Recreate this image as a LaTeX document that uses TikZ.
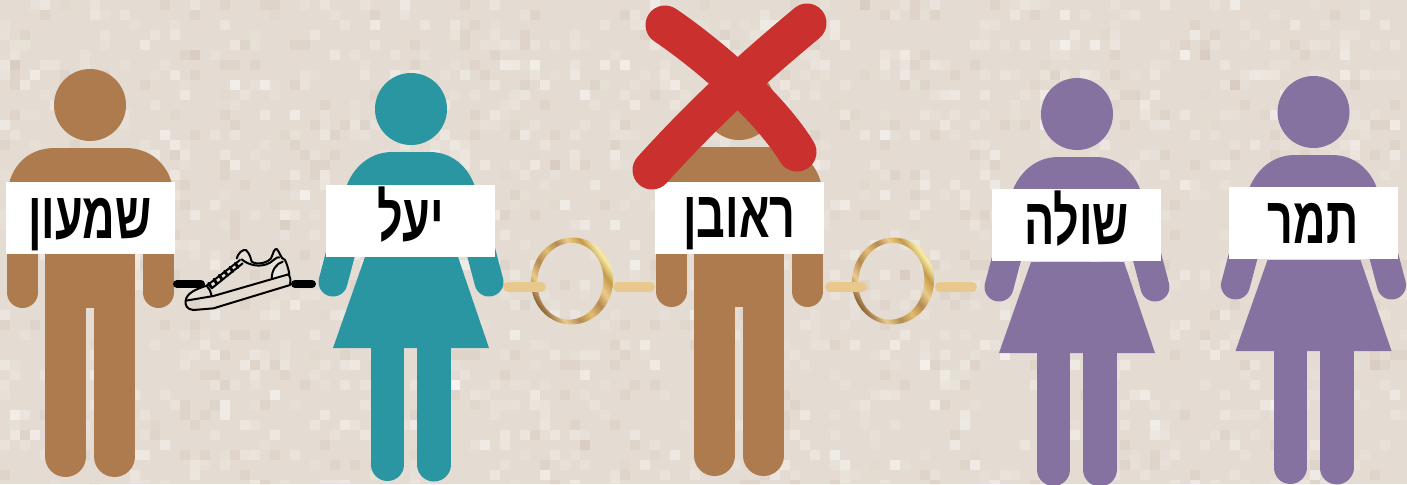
\documentclass[tikz,border=0pt]{standalone}
\usepackage{fontspec}
\usetikzlibrary{calc}
\TeXXeTstate=1
\newfontfamily\hebfont[Script=Hebrew,FakeStretch=0.68]{Liberation Sans Bold}
\definecolor{reka}{HTML}{E4DCD2}
\definecolor{hum}{HTML}{AE7B4E}
\definecolor{turkiz}{HTML}{2A96A2}
\definecolor{sagol}{HTML}{8672A1}
\definecolor{adom}{HTML}{C9302E}
\definecolor{zahavkav}{HTML}{E8C88C}
\definecolor{zA}{HTML}{8E6638}
\definecolor{zB}{HTML}{EBCB8A}
\definecolor{zC}{HTML}{B48A50}
\definecolor{zD}{HTML}{E2BC72}
\definecolor{zE}{HTML}{C49A48}
\definecolor{zF}{HTML}{F6ECA8}
\pgfdeclarehorizontalshading{zahav}{100bp}{
  color(0bp)=(zA); color(27bp)=(zA); color(34bp)=(zB); color(41bp)=(zC);
  color(48bp)=(zD); color(55bp)=(zC); color(61bp)=(zB); color(67bp)=(zE);
  color(72bp)=(zF); color(77bp)=(zD); color(100bp)=(zD)}
\tikzset{
  tavit/.style={fill=white,inner sep=0pt,minimum width=84.5pt,text width=84.5pt,align=center,
                text height=28pt,text depth=8pt,font=\hebfont\fontsize{33}{33}\selectfont},
  shroch/.style={line width=4pt,line cap=round},
  kav/.style={line width=5pt,line cap=round,zahavkav},
  evar/.style={line width=#1,line cap=round},
  gever/.pic={
    \fill[hum] (0,0) circle[radius=36];
    \fill[hum] (-83,110) -- (-83,95) .. controls (-83,65) and (-65,43) .. (-35,43) -- (35,43)
      .. controls (65,43) and (84,65) .. (84,95) -- (84,110) -- cycle;
    \fill[hum] (-45,110) rectangle (45,203);
    \draw[hum,evar=15.5pt] (-67.5,110) -- (-67.5,187.5);
    \draw[hum,evar=15.5pt] (68.5,110) -- (68.5,187.5);
    \draw[hum,evar=20.5pt] (-24.5,190) -- (-24.5,351.5);
    \draw[hum,evar=20.5pt] (24.5,190) -- (24.5,351.5);
  },
  isha/.pic={
    \fill[#1] (0,0) circle[radius=36];
    \fill[#1] (-66,81) .. controls (-58,56) and (-39,43) .. (-19,43) -- (19,43)
      .. controls (39,43) and (58,56) .. (65,81) -- cycle;
    \fill[#1] (-46,148) -- (47,148) -- (78,239) -- (-78,239) -- cycle;
    \draw[#1,evar=14.5pt] (-64,120) -- (-78,173);
    \draw[#1,evar=14.5pt] (64,120) -- (78,173);
    \draw[#1,evar=16.5pt] (-23.5,235) -- (-23.5,355.5);
    \draw[#1,evar=17pt] (23,235) -- (23,355.5);
  },
  tabaat/.pic={
    \shade[shading=zahav,shading angle=35,even odd rule,rotate=-8]
      (0,0) ellipse[x radius=41,y radius=43.5] (-1.6,0.5) ellipse[x radius=33,y radius=38.5];
  },
}
\begin{document}
\begin{tikzpicture}[x=0.5pt,y=-0.5pt]
  \useasboundingbox (0,0) rectangle (1407,484);
  \fill[reka] (0,0) rectangle (1407,484);
  % speckles
  \begin{scope}
    \clip (0,0) rectangle (1407,484);
    \pgfmathsetseed{2718}
    \foreach \i in {1,...,1400}{
      \pgfmathsetmacro{\rx}{10*int(rnd*141)}
      \pgfmathsetmacro{\ry}{10*int(rnd*49)}
      \pgfmathsetmacro{\ro}{0.1+0.4*rnd*rnd}
      \fill[white,opacity=\ro] (\rx,\ry) rectangle ++(10,10);
    }
    \foreach \i in {1,...,500}{
      \pgfmathsetmacro{\rx}{10*int(rnd*141)}
      \pgfmathsetmacro{\ry}{10*int(rnd*49)}
      \fill[black!40!brown,opacity=0.05] (\rx,\ry) rectangle ++(10,10);
    }
  \end{scope}

  \pic at (90,105) {gever};
  \pic at (739,104) {gever};
  \pic at (411,109) {isha=turkiz};
  \pic at (1077,114) {isha=sagol};
  \pic at (1313.5,112) {isha=sagol};

  \pic at (572,281) {tabaat};
  \pic at (893,281) {tabaat};

  \node[tavit] (shimon) at (90,218) {\beginR שמעון\endR};
  \node[tavit] (yael) at (410.5,220.5) {\beginR יעל\endR};
  \node[tavit] (reuven) at (739.5,217.5) {\beginR ראובן\endR};
  \node[tavit] (shula) at (1076.5,224.5) {\beginR שולה\endR};
  \node[tavit] (tamar) at (1313,223) {\beginR תמר\endR};

  \coordinate (shimonyad) at (177,284);
  \coordinate (naalA) at (201,284);
  \coordinate (naalB) at (295,284);
  \coordinate (yaelyad) at (312,284);
  \coordinate (yaelyadB) at (508,287);
  \coordinate (tabaatA) at (541,287);
  \coordinate (tabaatB) at (618,287);
  \coordinate (reuvenyad) at (650,287);
  \coordinate (reuvenyadB) at (830,287);
  \coordinate (tabaatC) at (862,287);
  \coordinate (tabaatD) at (940,287);
  \coordinate (shulayad) at (972,287);

  \draw[shroch] (shimonyad) -- (naalA);
  \draw[shroch] (naalB) -- (yaelyad);
  \draw[kav] (yaelyadB) -- (tabaatA);
  \draw[kav] (tabaatB) -- (reuvenyad);
  \draw[kav] (reuvenyadB) -- (tabaatC);
  \draw[kav] (tabaatD) -- (shulayad);

  % shoe
  \begin{scope}[shift={(170,230)},x=0.1667pt,y=-0.1667pt,line width=1pt,line join=round,line cap=round]
    \draw (47,212) -- (130,198) -- (355,133) .. controls (362,145) .. (360,165) -- (130,235) -- (70,240)
      .. controls (50,238) and (45,225) .. (47,212);
    \draw (47,212) .. controls (50,190) and (75,178) .. (110,167);
    \draw (110,167) -- (210,90);
    \draw (110,167) .. controls (118,175) and (122,185) .. (125,198);
    \draw (125,175) -- (218,100);
    \draw (200,85) .. controls (205,70) and (215,58) .. (228,60) .. controls (240,72) and (242,85) .. (245,95)
      .. controls (260,105) and (290,100) .. (303,85) .. controls (310,70) and (312,55) .. (320,57)
      .. controls (330,65) and (330,85) .. (345,90) .. controls (352,105) and (356,120) .. (358,133);
    \draw (215,88) .. controls (235,105) and (270,115) .. (300,98) .. controls (312,90) and (320,80) .. (328,82);
    \draw (305,145) .. controls (305,120) and (320,100) .. (338,95);
    \foreach \lx/\ly in {116/160,132/148,148/136,164/124,180/112,196/100}
      \draw[line width=1.5pt] (\lx,\ly) -- (\lx+8,\ly+12);
  \end{scope}

  % X
  \draw[adom,evar=19.5pt] (665,25) .. controls (695,45) and (765,100) .. (797,152);
  \draw[adom,evar=19.5pt] (807,23) .. controls (775,50) and (720,95) .. (652,170);
\end{tikzpicture}
\end{document}
